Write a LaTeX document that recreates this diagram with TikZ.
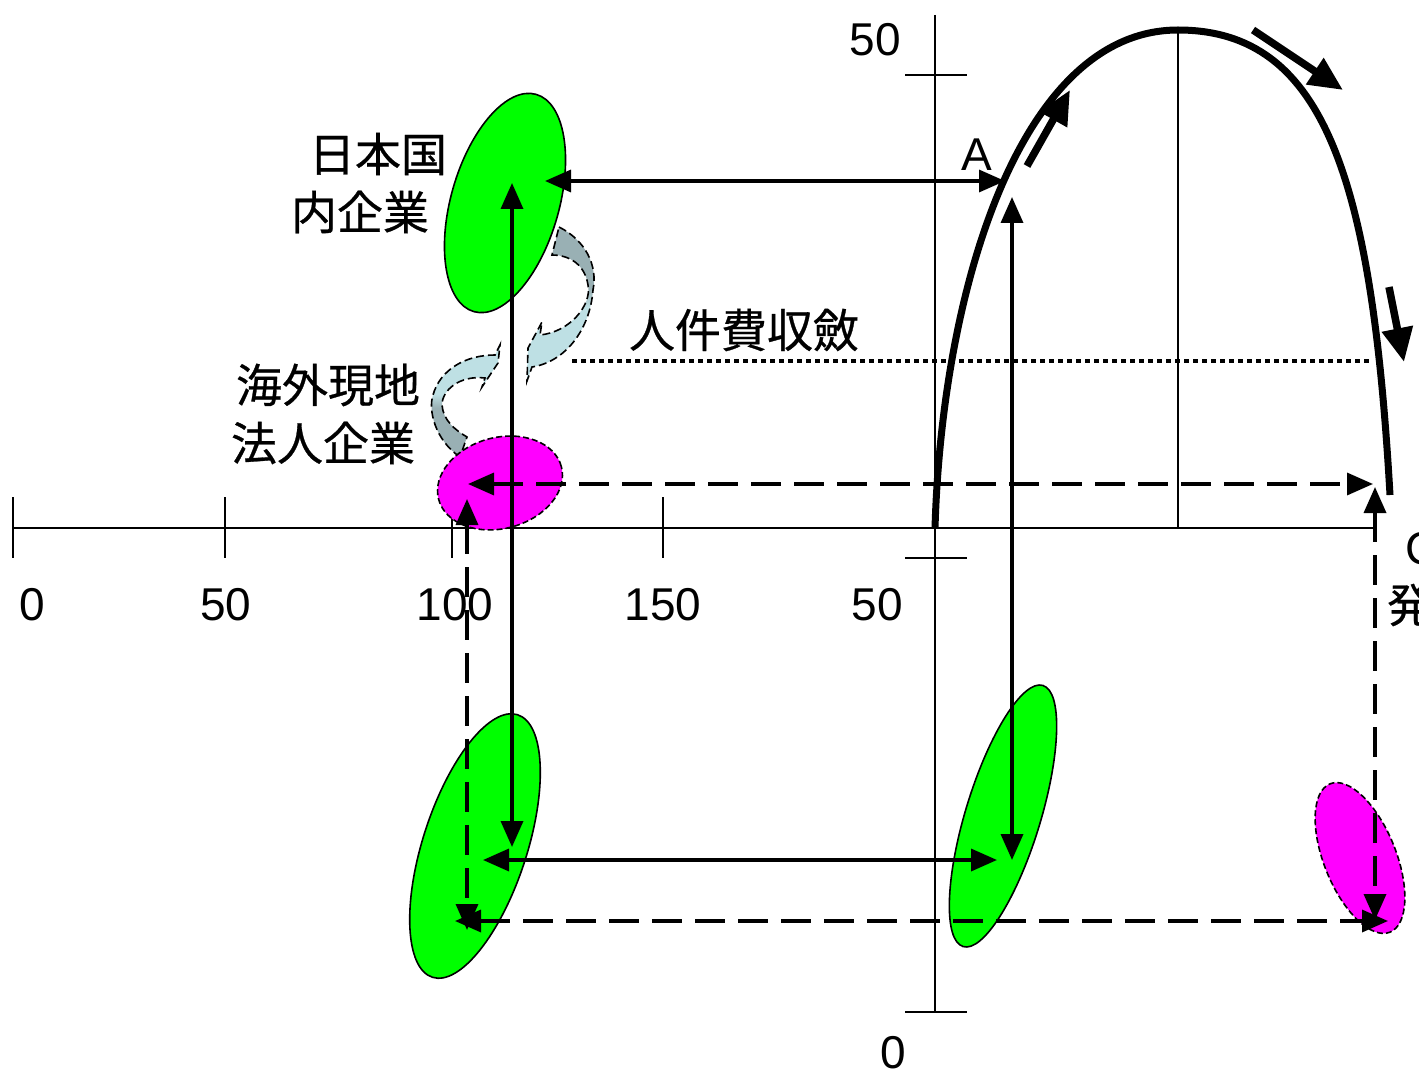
\documentclass[tikz,border=0pt]{standalone}
\usepackage{fontspec}
\setmainfont{Liberation Sans}
\newfontfamily\cjk[FakeBold=0.6]{Noto Sans CJK JP}
\usetikzlibrary{arrows.meta,shapes.geometric}
\definecolor{grn}{RGB}{0,255,0}
\definecolor{mag}{RGB}{255,0,255}
\definecolor{cgrey}{RGB}{153,176,180}
\definecolor{clight}{RGB}{190,224,228}
\pgfdeclareverticalshading{upsh}{100bp}{color(0bp)=(clight); color(25bp)=(clight); color(49bp)=(clight); color(55bp)=(cgrey); color(75bp)=(cgrey); color(100bp)=(cgrey)}
\pgfdeclareverticalshading{losh}{100bp}{color(0bp)=(cgrey); color(25bp)=(cgrey); color(47bp)=(cgrey); color(53bp)=(clight); color(75bp)=(clight); color(100bp)=(clight)}
\tikzset{
  axisl/.style={line width=2.2pt},
  lbl/.style={inner sep=0pt, font=\fontsize{46}{50}\selectfont},
  jlbl/.style={inner sep=0pt, font=\fontsize{46}{50}\selectfont\cjk},
  ell/.style={ellipse, draw=black, inner sep=0pt, outer sep=0pt, line width=1.6pt},
  dell/.style={ell, dash pattern=on 6pt off 3pt},
  tip/.tip={Triangle[length=26pt,width=22pt]},
  arr/.style={line width=3.5pt, tip-tip},
  darr/.style={arr, dash pattern=on 30pt off 13pt},
  carr/.style={line width=7.5pt, -{Triangle[length=34pt,width=30pt]}},
  curvarrow/.style={draw=black, line width=1.6pt, dash pattern=on 8pt off 4pt},
}
\begin{document}
\begin{tikzpicture}[x=1pt,y=-1pt]
\useasboundingbox (0,0) rectangle (1419,1075);
% axes
\draw[axisl] (13,528) -- (1375,528);
\foreach \xx in {13,225,452,663} \draw[axisl] (\xx,497) -- (\xx,558);
\draw[axisl] (935,15) -- (935,1012);
\foreach \yy in {75,558,1012} \draw[axisl] (905,\yy) -- (967,\yy);
\draw[axisl] (1178,30) -- (1178,528);
\draw[line width=4pt, dash pattern=on 5pt off 4pt] (572,361) -- (1372,361);
% axis labels
\node[lbl] (x0) at (32,605) {0};
\node[lbl] (x50) at (226,605) {50};
\node[lbl] (x100) at (455,605) {100};
\node[lbl] (x150) at (663,605) {150};
\node[lbl] (y50b) at (877,605) {50};
\node[lbl] (y50t) at (875,40) {50};
\node[lbl] (y0) at (893,1053) {0};
\node[lbl] (lA) at (977,155) {A};
\node[lbl, anchor=west] (lC) at (1405,549) {C};
\node[jlbl, anchor=west] (lH) at (1387,605) {発};
% text labels
\node[jlbl] (t1) at (378,154) {日本国};
\node[jlbl] (t2) at (360,212) {内企業};
\node[jlbl] (t3) at (328,385) {海外現地};
\node[jlbl] (t4) at (323,443) {法人企業};
\node[jlbl] (t5) at (744,330) {人件費収斂};
% curved arrows
\path[curvarrow, shading=upsh] (559,227) .. controls (585,240) and (598,265) .. (593,290) .. controls (590,330) and (565,362) .. (532,367) -- (527,381) -- (528,348) -- (542,322) -- (540,335) .. controls (570,332) and (592,305) .. (588,285) .. controls (585,265) and (570,255) .. (552,255) -- cycle;
\path[curvarrow, shading=losh] (460,457) .. controls (435,440) and (428,410) .. (433,395) .. controls (440,370) and (465,355) .. (495,355) -- (500,345) -- (498,363) -- (482,387) -- (485,378) .. controls (460,375) and (442,390) .. (442,405) .. controls (443,420) and (455,430) .. (467,437) -- cycle;
% ellipses
\node[ell, fill=grn, minimum width=108, minimum height=226, rotate=-16] (e1) at (505,203) {};
\node[dell, fill=mag, minimum width=127, minimum height=91, rotate=15] (e2) at (500,483) {};
\node[ell, fill=grn, minimum width=104, minimum height=276, rotate=-18] (e3) at (475,846) {};
\node[ell, fill=grn, minimum width=75, minimum height=273, rotate=-17] (e4) at (1003,816) {};
\node[dell, fill=mag, minimum width=72, minimum height=160, rotate=22] (e5) at (1360,858) {};
% connector endpoints
\coordinate (a1) at (512,183); \coordinate (a2) at (512,847);
\coordinate (b1) at (545,181); \coordinate (b2) at (1005,181);
\coordinate (c1) at (1012,197); \coordinate (c2) at (1012,860);
\coordinate (d1) at (483,860); \coordinate (d2) at (997,860);
\coordinate (f1) at (468,484); \coordinate (f2) at (1373,484);
\coordinate (g1) at (467,499); \coordinate (g2) at (467,930);
\coordinate (h1) at (455,921); \coordinate (h2) at (1388,921);
\coordinate (k1) at (1375,487); \coordinate (k2) at (1375,920);
\draw[arr] (a1) -- (a2);
\draw[arr] (b1) -- (b2);
\draw[arr] (c1) -- (c2);
\draw[arr] (d1) -- (d2);
\draw[darr] (f1) -- (f2);
\draw[darr] (g1) -- (g2);
\draw[darr] (h1) -- (h2);
\draw[darr] (k1) -- (k2);
% main curve
\draw[line width=7pt] (935,528) .. controls (942,290) and (1020,30) .. (1178,30) .. controls (1325,30) and (1372,180) .. (1390,495);
% direction arrows
\coordinate (m1) at (1027,166); \coordinate (m2) at (1070,90);
\coordinate (n1) at (1253,30); \coordinate (n2) at (1343,90);
\coordinate (o1) at (1389,287); \coordinate (o2) at (1404,362);
\draw[carr] (m1) -- (m2);
\draw[carr] (n1) -- (n2);
\draw[carr] (o1) -- (o2);
\end{tikzpicture}
\end{document}
